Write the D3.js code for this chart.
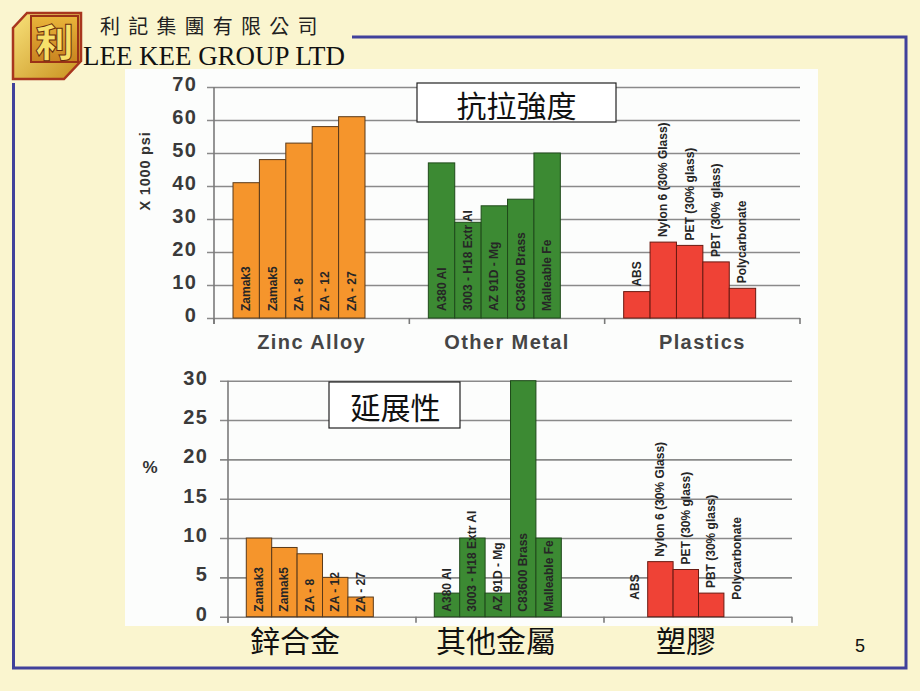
<!DOCTYPE html>
<html><head><meta charset="utf-8">
<script src="https://cdn.jsdelivr.net/npm/d3@7"></script>
<style>body{margin:0;background:#FAF5CF;} svg{display:block}</style>
</head><body>
<svg id="c" width="920" height="691"></svg>
<script>
// ---------- data ----------
const groupsEn = ["Zinc Alloy", "Other Metal", "Plastics"];
const groupsZh = ["鋅合金", "其他金屬", "塑膠"];
const zincNames = ["Zamak3", "Zamak5", "ZA - 8", "ZA - 12", "ZA - 27"];
const metalNames = ["A380 Al", "3003 - H18 Extr Al", "AZ 91D - Mg", "C83600 Brass", "Malleable Fe"];
const plasticNames = ["ABS", "Nylon 6 (30% Glass)", "PET (30% glass)", "PBT (30% glass)", "Polycarbonate"];
const tensileZinc = [41, 48, 53, 58, 61];
const tensileMetal = [47, 29, 34, 36, 50];
const tensilePlastic = [8, 23, 22, 17, 9];
const elongZinc = [10, 8.8, 8, 5, 2.5];
const elongMetal = [3, 10, 3, 30, 10];
const elongPlastic = [0, 7, 6, 3, 0];
const tensileTicks = [0, 10, 20, 30, 40, 50, 60, 70];
const elongTicks = [0, 5, 10, 15, 20, 25, 30];
const topTitle = "抗拉強度";
const bottomTitle = "延展性";
const tensileUnit = "X 1000 psi";
const elongUnit = "%";
const companyZh = "利記集團有限公司";
const companyEn = "LEE KEE GROUP LTD";
const pageNo = "5";

const groupColors = ["#F5952C", "#3C8A33", "#EF4236"];
const groupStroke = ["#5a3a1a", "#1f4a1a", "#6a1a12"];
const SANS = "'Liberation Sans', Arial, sans-serif";
const CJK = "'Noto Sans CJK TC', 'Noto Sans CJK SC', sans-serif";

const svg = d3.select("#c");
svg.append("rect").attr("width", 920).attr("height", 691).attr("fill", "#FAF5CF");
svg.append("rect").attr("x", 125).attr("y", 69).attr("width", 693).attr("height", 557).attr("fill", "#FCFDFC");
svg.append("path").attr("d", "M352,37 H906 V668 H13.5 V83")
  .attr("fill", "none").attr("stroke", "#40419B").attr("stroke-width", 3);

// ---------- header / logo ----------
const defs = svg.append("defs");
const gg = defs.append("linearGradient").attr("id", "gold").attr("x1", 0).attr("y1", 0).attr("x2", 1).attr("y2", 1);
gg.append("stop").attr("offset", "0%").attr("stop-color", "#F8E27A");
gg.append("stop").attr("offset", "100%").attr("stop-color", "#C8901E");
const gf = defs.append("linearGradient").attr("id", "face").attr("x1", 0).attr("y1", 0).attr("x2", 0).attr("y2", 1);
gf.append("stop").attr("offset", "0%").attr("stop-color", "#E9B43A");
gf.append("stop").attr("offset", "100%").attr("stop-color", "#C98420");
const logo = svg.append("g");
logo.append("polygon").attr("points", "27,13 81,13 81,61 64,79 13,79 13,28")
  .attr("fill", "url(#gold)").attr("stroke", "#A8361E").attr("stroke-width", 2.5);
logo.append("rect").attr("x", 31).attr("y", 16).attr("width", 47).attr("height", 46)
  .attr("fill", "url(#face)").attr("stroke", "#9A3216").attr("stroke-width", 2);
logo.append("text").attr("x", 54.5).attr("y", 39).attr("text-anchor", "middle")
  .attr("dominant-baseline", "central").attr("font-family", CJK).attr("font-weight", 900)
  .attr("font-size", 38).attr("fill", "#F7E06A").attr("stroke", "#6A2C0C").attr("stroke-width", 1)
  .text("利");

svg.append("text").attr("x", 100).attr("y", 34).attr("font-family", CJK)
  .attr("font-size", 20).attr("fill", "#222").attr("letter-spacing", 8.2).text(companyZh);
svg.append("text").attr("x", 83).attr("y", 65).attr("font-family", "'Liberation Serif', 'Times New Roman', serif")
  .attr("font-size", 28).attr("fill", "#111").attr("textLength", 262).attr("lengthAdjust", "spacingAndGlyphs")
  .text(companyEn);

// ---------- chart drawing ----------
function drawChart(cfg) {
  const g = svg.append("g");
  const x = d3.scaleBand().domain(cfg.groups).range(cfg.xRange);
  const bw = x.bandwidth();
  const inner = d3.scaleBand().domain(d3.range(5)).range([bw * 0.0973, bw * 0.773]);
  const y = d3.scaleLinear().domain([0, d3.max(cfg.ticks)]).range(cfg.yRange);
  const y0 = y(0);

  // gridlines + tick labels
  const ax = g.append("g").attr("transform", `translate(${cfg.gridLeft},0)`)
    .call(d3.axisLeft(y).tickValues(cfg.ticks)
      .tickSize(-(cfg.xRange[1] - cfg.gridLeft)).tickPadding(cfg.tickPad));
  ax.select(".domain").remove();
  ax.selectAll(".tick line").attr("stroke", "#8A8A8A").attr("stroke-width", 1.6);
  ax.selectAll(".tick text").attr("font-family", SANS).attr("font-weight", "bold")
    .attr("font-size", 20).attr("fill", "#3A3A3A").attr("letter-spacing", 1.2).attr("dy", "0.17em");

  // y axis line
  g.append("line").attr("x1", cfg.xRange[0]).attr("x2", cfg.xRange[0])
    .attr("y1", y(d3.max(cfg.ticks))).attr("y2", y0 + 6)
    .attr("stroke", "#7A7A7A").attr("stroke-width", 1.6);
  // x axis boundary ticks
  const bounds = [cfg.xRange[0]].concat(cfg.groups.map(d => x(d) + bw));
  g.selectAll(".xb").data(bounds).join("line")
    .attr("x1", d => d).attr("x2", d => d).attr("y1", y0).attr("y2", y0 + 6)
    .attr("stroke", "#7A7A7A").attr("stroke-width", 1.6);

  // bars
  cfg.groups.forEach((grp, gi) => {
    const vals = cfg.series[gi];
    const gb = g.append("g").attr("transform", `translate(${x(grp)},0)`);
    gb.selectAll("rect").data(vals).join("rect")
      .attr("x", (d, i) => inner(i)).attr("width", inner.bandwidth())
      .attr("y", d => y(d)).attr("height", d => y0 - y(d))
      .attr("fill", groupColors[gi]).attr("stroke", groupStroke[gi]).attr("stroke-width", 1)
      .attr("display", d => d > 0 ? null : "none");
    gb.selectAll("text").data(vals).join("text")
      .attr("transform", (d, i) => {
        const base = cfg.labelAbove[gi] ? (d > 0 ? y(d) - 5 : y0 - 17) : y0 - cfg.labelGap;
        return `translate(${inner(i) + inner.bandwidth() / 2},${base}) rotate(-90)`;
      })
      .attr("dominant-baseline", "central").attr("text-anchor", "start")
      .attr("font-family", SANS).attr("font-weight", "bold").attr("font-size", 12)
      .attr("fill", "#262626")
      .text((d, i) => cfg.names[gi][i]);
  });

  // group labels
  if (cfg.groupLabels) {
    g.selectAll(".gl").data(cfg.groups).join("text")
      .attr("x", d => x(d) + bw / 2).attr("y", y0 + 31).attr("text-anchor", "middle")
      .attr("font-family", SANS).attr("font-weight", "bold").attr("font-size", 20)
      .attr("letter-spacing", 1.4).attr("fill", "#454545").text(d => d);
  }

  // title box
  const tb = cfg.titleBox;
  g.append("rect").attr("x", tb[0]).attr("y", tb[1]).attr("width", tb[2]).attr("height", tb[3])
    .attr("fill", "#FFFFFF").attr("stroke", "#222").attr("stroke-width", 1.2);
  g.append("text").attr("x", tb[0] + tb[2] / 2 + (cfg.titleDx || 0)).attr("y", tb[1] + tb[3] / 2 + 1)
    .attr("text-anchor", "middle").attr("dominant-baseline", "central")
    .attr("font-family", CJK).attr("font-size", 30).attr("fill", "#111").text(cfg.title);
  return {x, y, bw};
}

drawChart({
  groups: groupsEn,
  xRange: [214, 800], yRange: [318, 87], gridLeft: 207, tickPad: 10,
  ticks: tensileTicks,
  series: [tensileZinc, tensileMetal, tensilePlastic],
  names: [zincNames, metalNames, plasticNames],
  labelAbove: [false, false, true], labelGap: 7,
  groupLabels: true,
  title: topTitle, titleBox: [417, 83, 199, 39]
});
svg.append("text").attr("transform", "translate(145,171) rotate(-90)")
  .attr("text-anchor", "middle").attr("dominant-baseline", "central")
  .attr("font-family", SANS).attr("font-weight", "bold").attr("font-size", 14.5)
  .attr("letter-spacing", 0.8).attr("fill", "#333").text(tensileUnit);

const bottom = drawChart({
  groups: groupsZh,
  xRange: [228, 792], yRange: [616.7, 380.7], gridLeft: 220, tickPad: 12,
  ticks: elongTicks,
  series: [elongZinc, elongMetal, elongPlastic],
  names: [zincNames, metalNames, plasticNames],
  labelAbove: [false, false, true], labelGap: 5,
  groupLabels: false,
  title: bottomTitle, titleBox: [329, 382, 131, 46], titleDx: 1
});
svg.append("text").attr("x", 150).attr("y", 467)
  .attr("text-anchor", "middle").attr("dominant-baseline", "central")
  .attr("font-family", SANS).attr("font-weight", "bold").attr("font-size", 17)
  .attr("fill", "#333").text(elongUnit);

// Chinese category captions under lower chart
const zhOffsets = [-27, -14, -12];
svg.selectAll(".zh").data(groupsZh).join("text")
  .attr("x", (d, i) => bottom.x(d) + bottom.bw / 2 + zhOffsets[i]).attr("y", 639)
  .attr("text-anchor", "middle").attr("dominant-baseline", "central")
  .attr("font-family", CJK).attr("font-size", 30).attr("fill", "#111").text(d => d);

svg.append("text").attr("x", 860).attr("y", 652).attr("text-anchor", "middle")
  .attr("font-family", SANS).attr("font-size", 18).attr("fill", "#111").text(pageNo);
</script>
</body></html>
